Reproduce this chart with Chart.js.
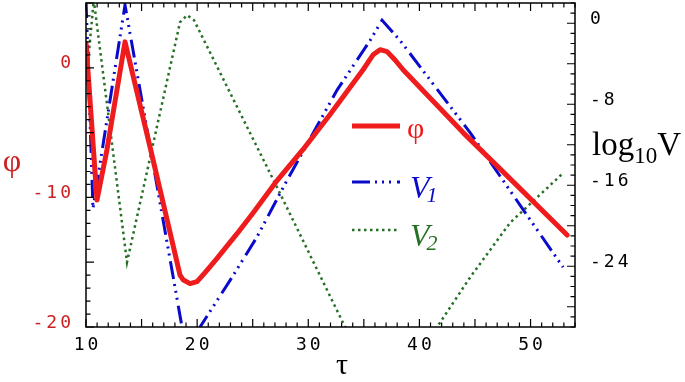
<!DOCTYPE html>
<html>
<head>
<meta charset="utf-8">
<script src="https://cdn.jsdelivr.net/npm/chart.js@4.4.1/dist/chart.umd.min.js"></script>
<style>
  html, body { margin: 0; padding: 0; background: #fff; }
  #c { display: block; }
</style>
</head>
<body>
<canvas id="c" width="685" height="382"></canvas>
<script>
// values
const phiTau = [10, 10.99, 11.89, 13.51, 15.76, 18.46, 18.73, 19.36, 19.99, 20.71, 21.79, 23.59, 25.03, 27.19, 29.53, 31.96, 34.2, 34.93, 35.83, 36.46, 37.09, 37.81, 38.53, 43.93, 47.26, 53.29];
const phiVals = [1.9, -10.2, -6.3, 2.0, -6.1, -16.0, -16.35, -16.65, -16.5, -15.8, -14.7, -12.8, -11.2, -8.7, -6.3, -3.6, -1.0, -0.15, 1.0, 1.4, 1.25, 0.6, -0.15, -5.0, -7.8, -12.9];

const v1Tau = [10, 10.63, 13.51, 18.64, 19.6, 20.26, 22.96, 25.39, 28.09, 32.59, 35.56, 36.64, 38.26, 44.56, 49.96, 52.93];
const v1Vals = [2.3, -18.3, 1.8, -30, -33.5, -30, -25.4, -21.1, -15.5, -6.6, -1.7, 0.3, -1.7, -10.8, -19.4, -24.1];

const v2Tau = [10, 10.7, 13.69, 18.46, 19.09, 19.72, 27.19, 33.31, 36.5, 41.59, 44.56, 48.16, 52.93];
const v2Vals = [-6, 2.3, -23.6, 0.1, 0.8, 0.3, -16.2, -30, -37, -30, -25.1, -19.7, -14.8];

const xLabels = [10, 20, 30, 40, 50];
const phiLabels = [0, -10, -20];
const logLabels = [0, -8, -16, -24];

const RED = '#ee1c1c';
const BLUE = '#0a0acc';
const GREEN = '#267026';

function pts(xs, ys) { return xs.map((x, i) => ({x: x, y: ys[i]})); }

const decor = {
  id: 'decor',
  afterDraw(chart) {
    const ctx = chart.ctx;
    const a = chart.chartArea;
    const sx = chart.scales.x, sl = chart.scales.yL, sr = chart.scales.yR;
    ctx.save();
    // frame
    ctx.strokeStyle = '#000';
    ctx.lineWidth = 1.5;
    ctx.strokeRect(a.left, a.top, a.right - a.left, a.bottom - a.top);
    // ticks
    ctx.lineWidth = 1.2;
    ctx.beginPath();
    for (let t = 10; t <= 54; t++) {
      const p = sx.getPixelForValue(t);
      const len = t % 5 === 0 ? 8 : 4.5;
      ctx.moveTo(p, a.bottom); ctx.lineTo(p, a.bottom - len);
      ctx.moveTo(p, a.top); ctx.lineTo(p, a.top + len);
    }
    for (let v = -20; v <= 5; v++) {
      const p = sl.getPixelForValue(v);
      const len = v % 5 === 0 ? 8 : 4.5;
      ctx.moveTo(a.left, p); ctx.lineTo(a.left + len, p);
    }
    for (let v = -30; v <= 2; v++) {
      const p = sr.getPixelForValue(v);
      const len = v % 4 === 0 ? 8 : 4.5;
      ctx.moveTo(a.right, p); ctx.lineTo(a.right - len, p);
    }
    ctx.stroke();

    // tick labels
    ctx.font = '18px "DejaVu Sans Mono"';
    ctx.letterSpacing = '3px';
    ctx.textBaseline = 'middle';
    ctx.fillStyle = '#000';
    ctx.textAlign = 'center';
    xLabels.forEach(t => ctx.fillText(String(t), sx.getPixelForValue(t) + 1.5, 345));
    ctx.textAlign = 'left';
    logLabels.forEach(v => ctx.fillText(String(v), 590, sr.getPixelForValue(v) - 4));
    ctx.fillStyle = '#cc2020';
    ctx.textAlign = 'right';
    phiLabels.forEach(v => ctx.fillText(String(v), 74, sl.getPixelForValue(v) - 4));
    ctx.letterSpacing = '0px';

    // axis titles
    ctx.textAlign = 'center';
    ctx.fillStyle = '#cc2020';
    ctx.font = '32px "Liberation Serif"';
    ctx.fillText('\u03c6', 12, 163);
    ctx.fillStyle = '#000';
    ctx.font = '30px "Liberation Serif"';
    ctx.fillText('\u03c4', 342, 366);
    ctx.textAlign = 'left';
    ctx.textBaseline = 'alphabetic';
    ctx.font = '33px "Liberation Serif"';
    ctx.fillText('log', 592, 155);
    let w = ctx.measureText('log').width;
    ctx.font = '23px "Liberation Serif"';
    ctx.fillText('10', 592 + w, 163);
    const w2 = ctx.measureText('10').width;
    ctx.font = '33px "Liberation Serif"';
    ctx.fillText('V', 592 + w + w2, 155);

    // legend
    const items = [
      {ds: 0, y: 126, label: 'φ', sub: ''},
      {ds: 1, y: 182, label: 'V', sub: '1'},
      {ds: 2, y: 230, label: 'V', sub: '2'}
    ];
    items.forEach(it => {
      const d = chart.data.datasets[it.ds];
      ctx.strokeStyle = d.borderColor;
      ctx.lineWidth = d.borderWidth;
      ctx.setLineDash(d.borderDash || []);
      ctx.beginPath();
      ctx.moveTo(352, it.y); ctx.lineTo(400, it.y);
      ctx.stroke();
      ctx.setLineDash([]);
      ctx.fillStyle = d.borderColor;
      if (it.sub) {
        ctx.font = 'italic 32px "Liberation Serif"';
        ctx.fillText(it.label, 410, it.y + 16);
        const lw = ctx.measureText(it.label).width;
        ctx.font = 'italic 22px "Liberation Serif"';
        ctx.fillText(it.sub, 410 + lw - 3, it.y + 20);
      } else {
        ctx.font = '30px "Liberation Serif"';
        ctx.fillText(it.label, 407, it.y + 12);
      }
    });
    ctx.restore();
  }
};

new Chart(document.getElementById('c'), {
  type: 'line',
  data: {
    datasets: [
      {label: 'φ', data: pts(phiTau, phiVals), yAxisID: 'yL', borderColor: RED, borderWidth: 5, pointRadius: 0, tension: 0, clip: 0, borderJoinStyle: 'round', borderCapStyle: 'round'},
      {label: 'V1', data: pts(v1Tau, v1Vals), yAxisID: 'yR', borderColor: BLUE, borderWidth: 3, borderDash: [18, 5, 2, 5, 2, 5, 2, 6], pointRadius: 0, tension: 0, clip: 0},
      {label: 'V2', data: pts(v2Tau, v2Vals), yAxisID: 'yR', borderColor: GREEN, borderWidth: 2.5, borderDash: [2.5, 3.5], pointRadius: 0, tension: 0, clip: 0}
    ]
  },
  options: {
    responsive: false,
    animation: false,
    devicePixelRatio: 1,
    layout: {padding: {left: 86, top: 3, right: 110, bottom: 55}},
    plugins: {legend: {display: false}, tooltip: {enabled: false}},
    scales: {
      x: {type: 'linear', min: 10, max: 54, display: false},
      yL: {type: 'linear', position: 'left', min: -20, max: 5, display: false},
      yR: {type: 'linear', position: 'right', min: -30, max: 2, display: false}
    }
  },
  plugins: [decor]
});
</script>
</body>
</html>
